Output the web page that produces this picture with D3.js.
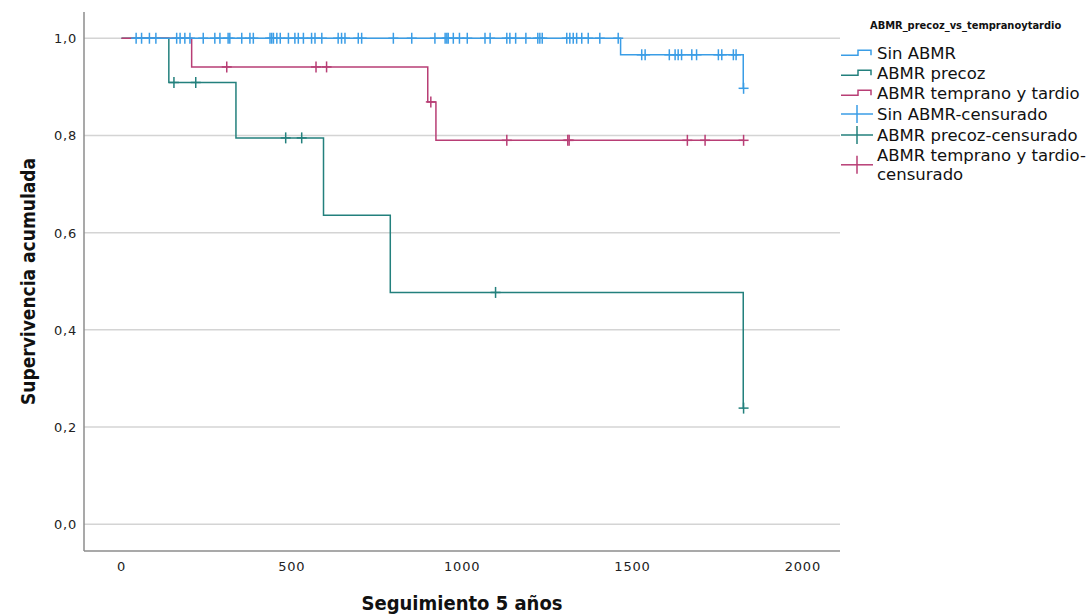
<!DOCTYPE html>
<html>
<head>
<meta charset="utf-8">
<script src="https://cdn.jsdelivr.net/npm/d3@7"></script>
<style>
  body { margin: 0; background: #fff; }
  svg text { font-family: "DejaVu Sans", sans-serif; }
</style>
</head>
<body>
<svg id="km" width="1091" height="615"></svg>
<script>
// Kaplan-Meier data (days / cumulative survival)
const groupNames = ["Sin ABMR", "ABMR precoz", "ABMR temprano y tardio"];

const sinTimes = [35, 1465, 1825];
const sinSurv = [1.0, 0.966, 0.897];
const sinCens = [43, 59, 82, 101, 162, 172, 186, 201, 240, 274, 289, 313, 318, 353, 377, 387,
  436, 441, 446, 456, 466, 490, 509, 519, 534, 558, 568, 588, 636, 646, 656, 695, 705,
  798, 852, 920, 950, 955, 959, 974, 992, 1015, 1067, 1082, 1131, 1140, 1157, 1187,
  1222, 1228, 1235, 1307, 1316, 1326, 1336, 1351, 1370, 1404, 1458,
  1527, 1537, 1608, 1625, 1634, 1644, 1674, 1688, 1752, 1762, 1796, 1804, 1826];

const precozTimes = [0, 139, 336, 593, 789, 1825];
const precozSurv = [1.0, 0.909, 0.795, 0.636, 0.477, 0.239];
const precozCens = [154, 218, 482, 529, 1098, 1826];

const tempTimes = [0, 206, 899, 923];
const tempSurv = [1.0, 0.941, 0.869, 0.790];
const tempCens = [309, 571, 602, 908, 1131, 1310, 1314, 1661, 1713, 1826];

const xTicks = [0, 500, 1000, 1500, 2000];
const yTicks = [0, 0.2, 0.4, 0.6, 0.8, 1.0];

const svg = d3.select("#km");
const pLeft = 84, pRight = 840, pTop = 12, pBottom = 551;

const x = d3.scaleLinear().domain([-110, 2109]).range([pLeft, pRight]);
const y = d3.scaleLinear().domain([-0.055, 1.054]).range([pBottom, pTop]);

// grid
svg.append("g")
  .selectAll("line")
  .data(yTicks)
  .join("line")
  .attr("x1", pLeft).attr("x2", pRight)
  .attr("y1", d => y(d)).attr("y2", d => y(d))
  .attr("stroke", "#d4d4d4")
  .attr("stroke-width", 1.5);

// axes
svg.append("line")
  .attr("x1", pLeft).attr("x2", pLeft).attr("y1", pTop).attr("y2", pBottom)
  .attr("stroke", "#8c8c8c").attr("stroke-width", 1.5);
svg.append("line")
  .attr("x1", pLeft).attr("x2", pRight).attr("y1", pBottom).attr("y2", pBottom)
  .attr("stroke", "#8c8c8c").attr("stroke-width", 1.5);

const fmt = d3.format(".1f");
svg.append("g")
  .selectAll("text")
  .data(yTicks)
  .join("text")
  .attr("x", 77)
  .attr("y", d => y(d) + 5)
  .attr("text-anchor", "end")
  .style("font-size", "13px")
  .style("letter-spacing", "0.8px")
  .attr("fill", "#222")
  .text(d => fmt(d).replace(".", ","));

svg.append("g")
  .selectAll("text")
  .data(xTicks)
  .join("text")
  .attr("x", d => x(d))
  .attr("y", 571)
  .attr("text-anchor", "middle")
  .style("font-size", "13px")
  .style("letter-spacing", "0.8px")
  .attr("fill", "#222")
  .text(d => d);

// axis titles
svg.append("text")
  .attr("x", (pLeft + pRight) / 2)
  .attr("y", 610)
  .attr("text-anchor", "middle")
  .style("font-family", "'DejaVu Sans Condensed', 'DejaVu Sans', sans-serif")
  .style("font-stretch", "condensed")
  .style("font-size", "20px")
  .style("font-weight", "bold")
  .attr("fill", "#111")
  .text("Seguimiento 5 años");

svg.append("text")
  .attr("transform", "rotate(-90)")
  .attr("x", -(pTop + pBottom) / 2)
  .attr("y", 35)
  .attr("text-anchor", "middle")
  .style("font-family", "'DejaVu Sans Condensed', 'DejaVu Sans', sans-serif")
  .style("font-stretch", "condensed")
  .style("font-size", "19px")
  .style("font-weight", "bold")
  .attr("fill", "#111")
  .text("Supervivencia acumulada");

// curves
const groups = [
  { name: groupNames[1], times: precozTimes, surv: precozSurv, cens: precozCens, color: "#23807d" },
  { name: groupNames[2], times: tempTimes, surv: tempSurv, cens: tempCens, color: "#b83e75" },
  { name: groupNames[0], times: sinTimes, surv: sinSurv, cens: sinCens, color: "#3a9de6" }
];

function survAt(g, t) {
  const i = d3.bisectRight(g.times, t) - 1;
  return g.surv[Math.max(i, 0)];
}

const line = d3.line()
  .x(d => x(d.t))
  .y(d => y(d.s))
  .curve(d3.curveStepAfter);

groups.forEach(g => {
  const pts = g.times.map((t, i) => ({ t: t, s: g.surv[i] }));
  const tEnd = d3.max(g.cens);
  if (tEnd > pts[pts.length - 1].t) pts.push({ t: tEnd, s: g.surv[g.surv.length - 1] });

  svg.append("path")
    .datum(pts)
    .attr("fill", "none")
    .attr("stroke", g.color)
    .attr("stroke-width", 1.5)
    .attr("d", line);

  const cg = svg.append("g").attr("stroke", g.color).attr("stroke-width", 1.5);
  g.cens.forEach(t => {
    const cx = x(t), cy = y(survAt(g, t));
    cg.append("line").attr("x1", cx).attr("x2", cx).attr("y1", cy - 5.5).attr("y2", cy + 5.5);
    cg.append("line").attr("x1", cx - 5).attr("x2", cx + 5).attr("y1", cy).attr("y2", cy);
  });
});

// legend
const legend = svg.append("g");
legend.append("text")
  .attr("x", 870)
  .attr("y", 29)
  .style("font-family", "'DejaVu Sans Condensed', 'DejaVu Sans', sans-serif")
  .style("font-stretch", "condensed")
  .style("font-size", "11px")
  .style("font-weight", "bold")
  .attr("fill", "#111")
  .text("ABMR_precoz_vs_tempranoytardio");

const legColors = ["#3a9de6", "#23807d", "#b83e75"];
const legRows = [
  { lines: ["Sin ABMR"], type: "step", c: 0, y: 52.7 },
  { lines: ["ABMR precoz"], type: "step", c: 1, y: 72.7 },
  { lines: ["ABMR temprano y tardio"], type: "step", c: 2, y: 92.7 },
  { lines: ["Sin ABMR-censurado"], type: "cens", c: 0, y: 114 },
  { lines: ["ABMR precoz-censurado"], type: "cens", c: 1, y: 135 },
  { lines: ["ABMR temprano y tardio-", "censurado"], type: "cens", c: 2, y: 155.3 }
];

legRows.forEach(r => {
  const col = legColors[r.c];
  if (r.type === "step") {
    legend.append("path")
      .attr("d", `M841,${r.y + 2.5}H858V${r.y - 2.5}H871V${r.y + 2.5}`)
      .attr("fill", "none").attr("stroke", col).attr("stroke-width", 1.5);
  } else {
    const cy = r.lines.length > 1 ? r.y + 9.5 : r.y;
    legend.append("line").attr("x1", 841).attr("x2", 873).attr("y1", cy).attr("y2", cy)
      .attr("stroke", col).attr("stroke-width", 1.5);
    legend.append("line").attr("x1", 857).attr("x2", 857).attr("y1", cy - 9).attr("y2", cy + 9)
      .attr("stroke", col).attr("stroke-width", 1.5);
  }
  r.lines.forEach((s, i) => {
    legend.append("text")
      .attr("x", 877)
      .attr("y", r.y + 6 + i * 19)
      .style("font-size", "16.5px")
      .attr("fill", "#111")
      .text(s);
  });
});
</script>
</body>
</html>
